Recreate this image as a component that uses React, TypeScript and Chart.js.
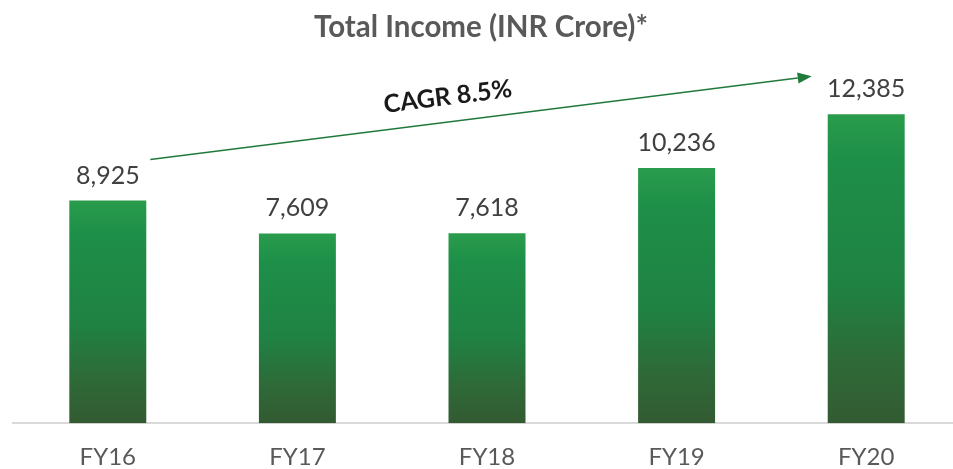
import React, { useEffect, useRef } from "react";
import { Chart, registerables } from "chart.js";

Chart.register(...registerables);

const categories = ["FY16", "FY17", "FY18", "FY19", "FY20"];
const totalIncome = [8925, 7609, 7618, 10236, 12385];
const chartTitle = "Total Income (INR Crore)*";
const cagrLabel = "CAGR 8.5%";
const yMax = 14000;

const FONT = "Lato, 'Open Sans', sans-serif";

const overlayPlugin = {
  id: "overlay",
  afterDatasetsDraw(chart: any) {
    const ctx: CanvasRenderingContext2D = chart.ctx;
    const meta = chart.getDatasetMeta(0);
    ctx.save();
    // title
    ctx.fillStyle = "#595959";
    ctx.font = `bold 29.5px ${FONT}`;
    ctx.textAlign = "center";
    ctx.textBaseline = "alphabetic";
    ctx.fillText(chartTitle, 481, 37);

    // data labels
    ctx.fillStyle = "#404040";
    ctx.font = `25px ${FONT}`;
    meta.data.forEach((bar: any, i: number) => {
      ctx.fillText(totalIncome[i].toLocaleString("en-US"), bar.x, bar.y - 17);
    });

    // CAGR arrow
    const b0 = meta.data[0] as any;
    const b4 = meta.data[meta.data.length - 1] as any;
    const x1 = b0.x + b0.width / 2 + 4;
    const y1 = b0.y - 41;
    const x2 = b4.x - b4.width / 2 - 16;
    const y2 = b4.y - 38;
    const ang = Math.atan2(y2 - y1, x2 - x1);
    const headLen = 14;
    const headHalf = 5.5;
    ctx.strokeStyle = "#217a3c";
    ctx.fillStyle = "#217a3c";
    ctx.lineWidth = 1.5;
    ctx.beginPath();
    ctx.moveTo(x1, y1);
    ctx.lineTo(x2 - headLen * Math.cos(ang), y2 - headLen * Math.sin(ang));
    ctx.stroke();
    ctx.beginPath();
    ctx.moveTo(x2, y2);
    const bx = x2 - headLen * Math.cos(ang);
    const by = y2 - headLen * Math.sin(ang);
    ctx.lineTo(bx + headHalf * Math.sin(ang), by - headHalf * Math.cos(ang));
    ctx.lineTo(bx - headHalf * Math.sin(ang), by + headHalf * Math.cos(ang));
    ctx.closePath();
    ctx.fill();

    // CAGR text
    const t = 0.4545;
    const px = x1 + (x2 - x1) * t;
    const py = y1 + (y2 - y1) * t;
    ctx.translate(px, py);
    ctx.rotate(ang);
    ctx.fillStyle = "#1a1a1a";
    ctx.font = `bold 25px ${FONT}`;
    ctx.textAlign = "center";
    ctx.textBaseline = "alphabetic";
    ctx.fillText(cagrLabel, 0, -17);
    ctx.restore();
  },
};

export default function App() {
  const canvasRef = useRef<HTMLCanvasElement | null>(null);

  useEffect(() => {
    if (!canvasRef.current) return;
    const chart = new Chart(canvasRef.current, {
      type: "bar",
      data: {
        labels: categories,
        datasets: [
          {
            data: totalIncome,
            categoryPercentage: 1,
            barPercentage: 0.406,
            borderWidth: 0,
            backgroundColor: (c: any) => {
              const ch = c.chart;
              const ys = ch.scales && ch.scales.y;
              if (!ys || c.type !== "data") return "#1f8a45";
              const top = ys.getPixelForValue(c.raw);
              const bottom = ys.getPixelForValue(0);
              if (!isFinite(top) || !isFinite(bottom) || top === bottom) return "#1f8a45";
              const g = ch.ctx.createLinearGradient(0, top, 0, bottom);
              g.addColorStop(0, "#2a9c4c");
              g.addColorStop(0.15, "#1e8f48");
              g.addColorStop(0.55, "#1f8243");
              g.addColorStop(0.8, "#2e6a37");
              g.addColorStop(1, "#335a32");
              return g;
            },
          },
        ],
      },
      options: {
        responsive: false,
        animation: false,
        layout: { padding: { left: 13, right: 14, top: 74, bottom: 0 } },
        plugins: {
          legend: { display: false },
          title: { display: false },
          tooltip: { enabled: false },
        },
        scales: {
          x: {
            grid: { display: false, drawTicks: false },
            border: { display: true, color: "#d9d9d9", width: 2 },
            ticks: {
              color: "#595959",
              font: { family: FONT, size: 24 },
              padding: 20,
            },
          },
          y: {
            display: false,
            min: 0,
            max: yMax,
          },
        },
      },
      plugins: [overlayPlugin],
    });
    return () => chart.destroy();
  }, []);

  return (
    <div
      style={{
        position: "fixed",
        left: 0,
        top: 0,
        width: 953,
        height: 469,
        overflow: "hidden",
        background: "#ffffff",
      }}
    >
      <canvas ref={canvasRef} width={975} height={492} style={{ display: "block" }} />
    </div>
  );
}
